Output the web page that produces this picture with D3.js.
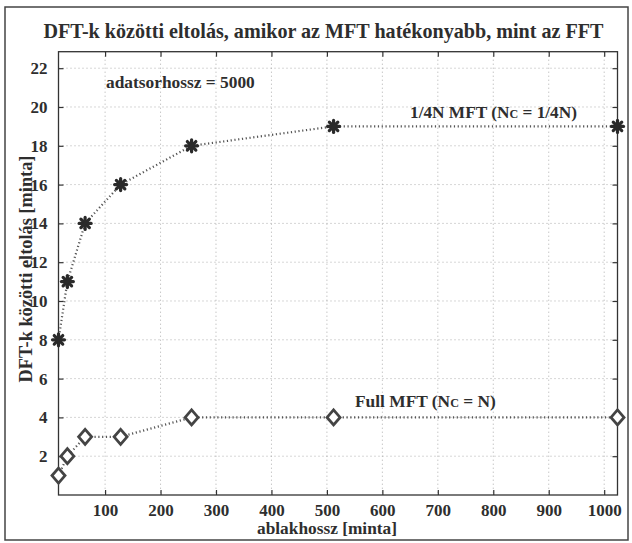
<!DOCTYPE html>
<html>
<head>
<meta charset="utf-8">
<script src="https://cdn.jsdelivr.net/npm/d3@7"></script>
<style>
  html, body { margin: 0; padding: 0; background: #fff; }
  svg { display: block; }
  svg text { font-family: "Liberation Serif", "Times New Roman", Times, "DejaVu Serif", "Noto Serif", serif !important; font-weight: bold; fill: #2e2e2e; }
</style>
</head>
<body>
<svg id="chart" width="632" height="543"></svg>
<script>
// ---- data ----
const windowLengths = [16, 32, 64, 128, 256, 512, 1024];
const quarterMFT = [8, 11, 14, 16, 18, 19, 19];
const fullMFT = [1, 2, 3, 3, 4, 4, 4];
const xTicks = [100, 200, 300, 400, 500, 600, 700, 800, 900, 1000];
const yTicks = [2, 4, 6, 8, 10, 12, 14, 16, 18, 20, 22];
const titleText = "DFT-k közötti eltolás, amikor az MFT hatékonyabb, mint az FFT";
const xLabelText = "ablakhossz [minta]";
const yLabelText = "DFT-k közötti eltolás [minta]";
const noteText = "adatsorhossz = 5000";

// ---- layout ----
const L = 58.5, R = 617.5, T = 51.7, B = 495;
const svg = d3.select("#chart");
const ink = "#333";

const x = d3.scaleLinear().domain([16, 1024]).range([L, R]);
const y = d3.scaleLinear().domain([0, 22.85]).range([B, T]);

function fit(sel, target) {
  const fs = parseFloat(sel.attr("font-size"));
  const len = sel.node().getComputedTextLength();
  sel.attr("font-size", (fs * target / len).toFixed(2));
  return sel;
}

// outer frame
svg.append("rect").attr("x", 5).attr("y", 7).attr("width", 623).attr("height", 533)
  .attr("fill", "#fff").attr("stroke", "#444").attr("stroke-width", 1.5);

// grid
const grid = svg.append("g").attr("stroke", "#999").attr("stroke-width", 0.8)
  .attr("stroke-dasharray", "1,3");
grid.selectAll(".gx").data(xTicks).join("line")
  .attr("x1", d => x(d)).attr("x2", d => x(d)).attr("y1", T).attr("y2", B);
grid.selectAll(".gy").data(yTicks).join("line")
  .attr("y1", d => y(d)).attr("y2", d => y(d)).attr("x1", L).attr("x2", R);

// axes (ticks inward)
const tickLen = 5;
const fmt = d3.format("d");
const axB = svg.append("g").attr("transform", `translate(0,${B})`)
  .call(d3.axisBottom(x).tickValues(xTicks).tickFormat(fmt).tickSizeInner(-tickLen).tickSizeOuter(0).tickPadding(9));
const axT = svg.append("g").attr("transform", `translate(0,${T})`)
  .call(d3.axisTop(x).tickValues(xTicks).tickSizeInner(-tickLen).tickSizeOuter(0).tickFormat(""));
const axL = svg.append("g").attr("transform", `translate(${L},0)`)
  .call(d3.axisLeft(y).tickValues(yTicks).tickFormat(fmt).tickSizeInner(-tickLen).tickSizeOuter(0).tickPadding(11));
const axR = svg.append("g").attr("transform", `translate(${R},0)`)
  .call(d3.axisRight(y).tickValues(yTicks).tickSizeInner(-tickLen).tickSizeOuter(0).tickFormat(""));
[axB, axT, axL, axR].forEach(a => {
  a.attr("font-family", null).attr("font-size", null);
  a.select(".domain").remove();
  a.selectAll(".tick line").attr("stroke", ink).attr("stroke-width", 1.2);
  a.selectAll("text").attr("font-size", 17).attr("fill", ink);
});
axB.selectAll("text").attr("dy", "0.68em");

// box
svg.append("rect").attr("x", L).attr("y", T).attr("width", R - L).attr("height", B - T)
  .attr("fill", "none").attr("stroke", ink).attr("stroke-width", 1.3);

// lines
const line = d3.line().x(d => x(d[0])).y(d => y(d[1]));
const seriesQ = windowLengths.map((w, i) => [w, quarterMFT[i]]);
const seriesF = windowLengths.map((w, i) => [w, fullMFT[i]]);
[seriesQ, seriesF].forEach(s => {
  svg.append("path").datum(s).attr("d", line).attr("fill", "none")
    .attr("stroke", "#555").attr("stroke-width", 2.2).attr("stroke-dasharray", "1.2,2.6");
});

// asterisk markers
const ast = svg.append("g").attr("stroke", "#2a2a2a").attr("stroke-width", 3.2).attr("stroke-linecap", "round");
const r = 6;
seriesQ.forEach(d => {
  const g = ast.append("g").attr("transform", `translate(${x(d[0])},${y(d[1])})`);
  g.append("circle").attr("r", 3).attr("fill", "#2a2a2a").attr("stroke", "none");
  [0, 45, 90, 135].forEach(a => {
    g.append("line").attr("x1", -r).attr("x2", r).attr("y1", 0).attr("y2", 0)
      .attr("transform", `rotate(${a})`);
  });
});

// diamond markers
const dw = 6.5, dh = 7.5;
svg.append("g").selectAll("path").data(seriesF).join("path")
  .attr("transform", d => `translate(${x(d[0])},${y(d[1])})`)
  .attr("d", () => { const p = d3.path(); p.moveTo(0, -dh); p.lineTo(dw, 0); p.lineTo(0, dh); p.lineTo(-dw, 0); p.closePath(); return p.toString(); })
  .attr("fill", "#fff").attr("stroke", "#444").attr("stroke-width", 2.8).attr("stroke-linejoin", "miter");

// title and labels
fit(svg.append("text").attr("x", 323.5).attr("y", 38).attr("text-anchor", "middle")
  .attr("font-size", 18).text(titleText), 560);
fit(svg.append("text").attr("x", 327).attr("y", 534).attr("text-anchor", "middle")
  .attr("font-size", 16).text(xLabelText), 140);
fit(svg.append("text").attr("transform", "translate(32,269) rotate(-90)").attr("text-anchor", "middle")
  .attr("font-size", 16).text(yLabelText), 227);

// annotations
fit(svg.append("text").attr("x", 106).attr("y", 88).attr("font-size", 15).text(noteText), 149);

function labelNc(xp, yp, pre, post, target) {
  const t = svg.append("text").attr("x", xp).attr("y", yp).attr("font-size", 15);
  t.append("tspan").text(pre);
  const sub = t.append("tspan").attr("font-size", 10.5).text("C");
  t.append("tspan").text(post);
  const k = target / t.node().getComputedTextLength();
  t.attr("font-size", (15 * k).toFixed(2));
  sub.attr("font-size", (10.5 * k).toFixed(2));
}
labelNc(410, 118, "1/4N MFT (N", " = 1/4N)", 167);
labelNc(355, 407, "Full MFT (N", " = N)", 141);
</script>
</body>
</html>
